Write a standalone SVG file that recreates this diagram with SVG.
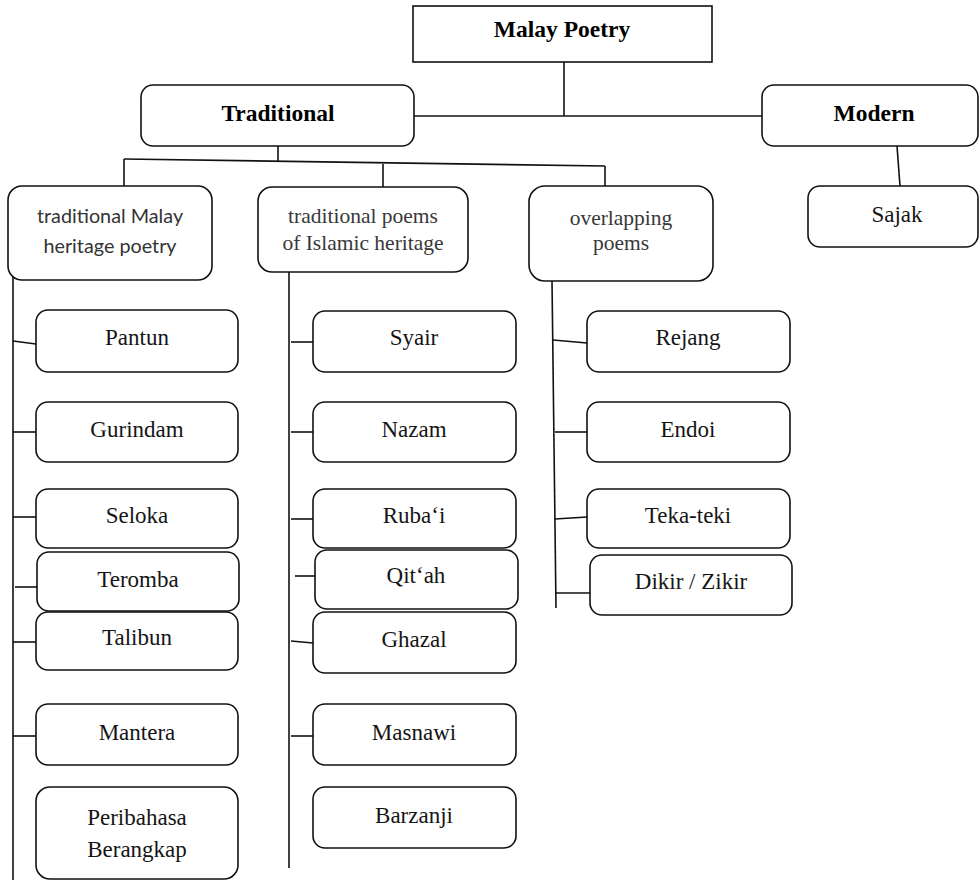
<svg xmlns="http://www.w3.org/2000/svg" width="980" height="880" viewBox="0 0 980 880">
<style>
.b{fill:#fff;stroke:#111;stroke-width:1.6}
.c{stroke:#111;stroke-width:1.6;fill:none}
.t{font-family:"Liberation Serif","Times New Roman",serif;font-size:23px;fill:#151515;text-anchor:middle}
.h{font-family:"Liberation Serif","Times New Roman",serif;font-size:23.5px;font-weight:bold;fill:#000;text-anchor:middle}
.s{font-family:"Liberation Serif","Times New Roman",serif;font-size:21.5px;fill:#383838;text-anchor:middle}
.k{font-family:Lato,"Open Sans",sans-serif;font-size:19.8px;fill:#333;text-anchor:middle}
</style>
<rect width="980" height="880" fill="#fff"/>
<g id="connectors">
<line class="c" x1="564" y1="62" x2="564" y2="116"/>
<line class="c" x1="414" y1="116" x2="762" y2="116"/>
<line class="c" x1="278" y1="146" x2="278" y2="162"/>
<line class="c" x1="124" y1="159" x2="605" y2="166"/>
<line class="c" x1="124" y1="159" x2="124" y2="186"/>
<line class="c" x1="383" y1="164" x2="383" y2="187"/>
<line class="c" x1="605" y1="166" x2="605" y2="186"/>
<line class="c" x1="897" y1="146" x2="900" y2="186"/>
<line class="c" x1="13" y1="272" x2="13" y2="880"/>
<line class="c" x1="13" y1="341" x2="36" y2="344"/>
<line class="c" x1="13" y1="432" x2="36" y2="432"/>
<line class="c" x1="13" y1="517" x2="36" y2="517"/>
<line class="c" x1="15" y1="587" x2="37" y2="587"/>
<line class="c" x1="13" y1="642" x2="36" y2="642"/>
<line class="c" x1="13" y1="736" x2="36" y2="736"/>
<line class="c" x1="289" y1="272" x2="289" y2="868"/>
<line class="c" x1="291" y1="342" x2="313" y2="342"/>
<line class="c" x1="291" y1="432" x2="313" y2="432"/>
<line class="c" x1="291" y1="519" x2="313" y2="519"/>
<line class="c" x1="295" y1="576" x2="315" y2="576"/>
<line class="c" x1="291" y1="641" x2="313" y2="643"/>
<line class="c" x1="291" y1="736" x2="313" y2="736"/>
<line class="c" x1="552" y1="281" x2="556" y2="608"/>
<line class="c" x1="553" y1="340" x2="587" y2="343"/>
<line class="c" x1="555" y1="432" x2="587" y2="432"/>
<line class="c" x1="555" y1="519" x2="587" y2="517"/>
<line class="c" x1="556" y1="593" x2="590" y2="593"/>
</g>
<g id="malay-poetry"><rect class="b" x="413" y="6" width="299" height="56"/><text class="h" x="562" y="37">Malay Poetry</text></g>
<g id="traditional"><rect class="b" x="141" y="85" width="273" height="61" rx="12"/><text class="h" x="278" y="121">Traditional</text></g>
<g id="modern"><rect class="b" x="762" y="85" width="216" height="61" rx="12"/><text class="h" x="874" y="121">Modern</text></g>
<g id="malay-heritage"><rect class="b" x="8" y="186" width="204" height="94" rx="14"/><text class="k" x="110" y="223">traditional Malay</text><text class="k" x="110" y="253">heritage poetry</text></g>
<g id="islamic-heritage"><rect class="b" x="258" y="187" width="210" height="85" rx="14"/><text class="s" x="363" y="223">traditional poems</text><text class="s" x="363" y="250">of Islamic heritage</text></g>
<g id="overlapping"><rect class="b" x="529" y="186" width="184" height="95" rx="16"/><text class="s" x="621" y="225">overlapping</text><text class="s" x="621" y="250">poems</text></g>
<g id="sajak"><rect class="b" x="808" y="186" width="170" height="61" rx="12"/><text class="t" x="897" y="222">Sajak</text></g>
<g id="pantun"><rect class="b" x="36" y="310" width="202" height="62" rx="12"/><text class="t" x="137" y="345">Pantun</text></g>
<g id="gurindam"><rect class="b" x="36" y="402" width="202" height="60" rx="12"/><text class="t" x="137" y="437">Gurindam</text></g>
<g id="seloka"><rect class="b" x="36" y="489" width="202" height="59" rx="12"/><text class="t" x="137" y="523">Seloka</text></g>
<g id="teromba"><rect class="b" x="37" y="552" width="202" height="59" rx="12"/><text class="t" x="138" y="587">Teromba</text></g>
<g id="talibun"><rect class="b" x="36" y="612" width="202" height="58" rx="12"/><text class="t" x="137" y="645">Talibun</text></g>
<g id="mantera"><rect class="b" x="36" y="704" width="202" height="61" rx="12"/><text class="t" x="137" y="740">Mantera</text></g>
<g id="peribahasa"><rect class="b" x="36" y="787" width="202" height="92" rx="14"/><text class="t" x="137" y="825">Peribahasa</text><text class="t" x="137" y="857">Berangkap</text></g>
<g id="syair"><rect class="b" x="313" y="311" width="203" height="61" rx="12"/><text class="t" x="414" y="345">Syair</text></g>
<g id="nazam"><rect class="b" x="313" y="402" width="203" height="60" rx="12"/><text class="t" x="414" y="437">Nazam</text></g>
<g id="rubai"><rect class="b" x="313" y="489" width="203" height="59" rx="12"/><text class="t" x="414" y="523">Ruba‘i</text></g>
<g id="qitah"><rect class="b" x="315" y="550" width="203" height="59" rx="12"/><text class="t" x="416" y="583">Qit‘ah</text></g>
<g id="ghazal"><rect class="b" x="313" y="612" width="203" height="61" rx="12"/><text class="t" x="414" y="647">Ghazal</text></g>
<g id="masnawi"><rect class="b" x="313" y="704" width="203" height="61" rx="12"/><text class="t" x="414" y="740">Masnawi</text></g>
<g id="barzanji"><rect class="b" x="313" y="787" width="203" height="61" rx="12"/><text class="t" x="414" y="823">Barzanji</text></g>
<g id="rejang"><rect class="b" x="587" y="311" width="203" height="61" rx="12"/><text class="t" x="688" y="345">Rejang</text></g>
<g id="endoi"><rect class="b" x="587" y="402" width="203" height="60" rx="12"/><text class="t" x="688" y="437">Endoi</text></g>
<g id="teka-teki"><rect class="b" x="587" y="489" width="203" height="59" rx="12"/><text class="t" x="688" y="523">Teka-teki</text></g>
<g id="dikir"><rect class="b" x="590" y="555" width="202" height="60" rx="12"/><text class="t" x="691" y="589">Dikir / Zikir</text></g>
</svg>
